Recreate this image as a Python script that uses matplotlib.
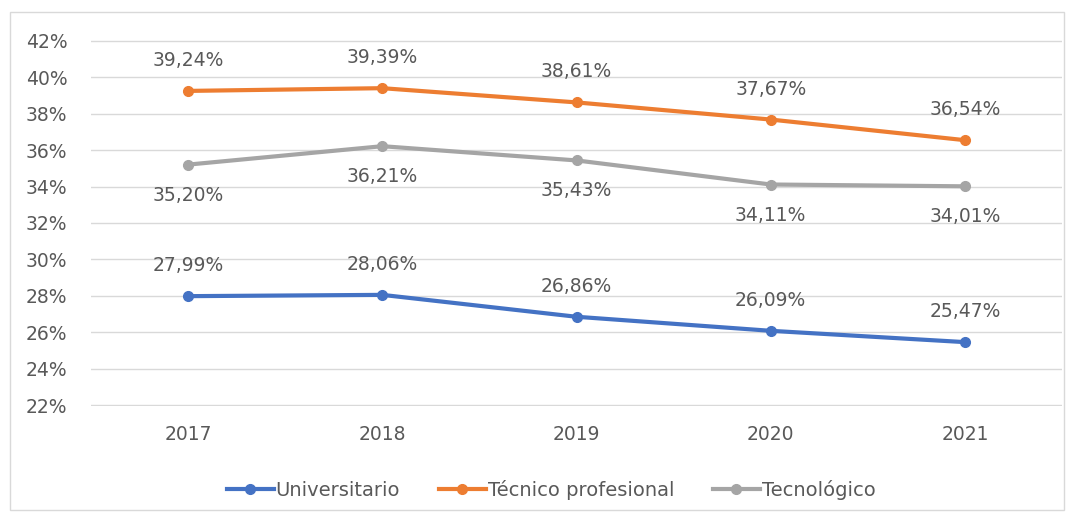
import matplotlib
matplotlib.use("Agg")
import matplotlib.pyplot as plt
from matplotlib.patches import Rectangle
from matplotlib.ticker import FuncFormatter

years = ["2017", "2018", "2019", "2020", "2021"]
universitario = [27.99, 28.06, 26.86, 26.09, 25.47]
tecnico = [39.24, 39.39, 38.61, 37.67, 36.54]
tecnologico = [35.20, 36.21, 35.43, 34.11, 34.01]

series = [
    ("Universitario", universitario, "#4472C4", 1),
    ("Técnico profesional", tecnico, "#ED7D31", 1),
    ("Tecnológico", tecnologico, "#A5A5A5", -1),
]

TXT = "#595959"

fig = plt.figure(figsize=(10.73, 5.15), dpi=100)
fig.patches.append(Rectangle((0.009, 0.01), 0.983, 0.966, transform=fig.transFigure,
                             fill=False, edgecolor="#d9d9d9", lw=1))
ax = fig.add_axes([0.0848, 0.2117, 0.905, 0.7106])

x = list(range(len(years)))
for name, vals, col, side in series:
    ax.plot(x, vals, color=col, lw=3, marker="o", ms=7, label=name, zorder=3)
    for xi, v in zip(x, vals):
        lab = f"{v:.2f}%".replace(".", ",")
        ax.annotate(lab, (xi, v), xytext=(0, 22 * side), textcoords="offset points",
                    ha="center", va="center", fontsize=13.5, color=TXT)

ax.set_xlim(-0.5, len(years) - 0.5)
ax.set_ylim(21.97, 42.03)
ax.set_yticks(range(22, 43, 2))
ax.yaxis.set_major_formatter(FuncFormatter(lambda v, _: f"{v:.0f}%"))
ax.set_xticks(x)
ax.set_xticklabels(years)
ax.tick_params(axis="both", length=0, labelsize=13.5, labelcolor=TXT)
ax.tick_params(axis="x", pad=14)
ax.tick_params(axis="y", pad=17)
ax.grid(axis="y", color="#d9d9d9", lw=1, zorder=0)
for s in ax.spines.values():
    s.set_visible(False)

ax.legend(loc="upper center", bbox_to_anchor=(0.474, -0.155), ncol=3, frameon=False,
          fontsize=14, labelcolor=TXT, handlelength=2.4, handletextpad=0.1,
          columnspacing=2.0)

fig.savefig("out.png", dpi=100)
